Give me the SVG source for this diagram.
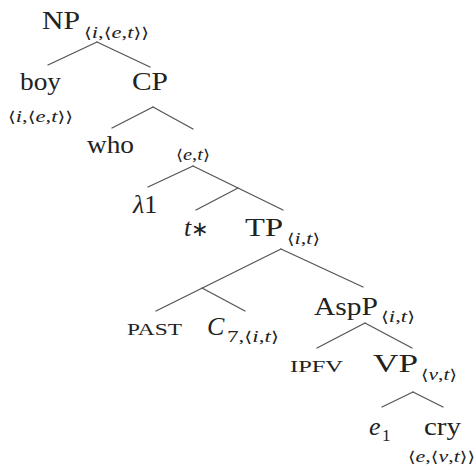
<svg xmlns="http://www.w3.org/2000/svg" width="476" height="470" viewBox="0 0 476 470">
<style>
text{font-family:"Liberation Serif","Times New Roman",serif;fill:#222}
.L{font-size:26px}
.s{font-size:17px}
.i{font-style:italic}
.b{font-family:"DejaVu Serif",serif;font-style:normal;font-size:15px}
.sc{font-size:17px}
#edges line{stroke:#555;stroke-width:1.3;stroke-linecap:round}
</style>
<rect width="476" height="470" fill="#fff"/>
<g id="edges">
<line x1="97" y1="42" x2="48" y2="65"/>
<line x1="97" y1="42" x2="150" y2="67"/>
<line x1="153" y1="107" x2="112" y2="128"/>
<line x1="153" y1="107" x2="193" y2="129"/>
<line x1="193" y1="166" x2="148" y2="187"/>
<line x1="193" y1="166" x2="283" y2="210"/>
<line x1="238" y1="188" x2="196" y2="210"/>
<line x1="281" y1="249" x2="156" y2="311"/>
<line x1="281" y1="249" x2="363" y2="287"/>
<line x1="202" y1="288" x2="245" y2="311"/>
<line x1="365" y1="323" x2="317" y2="348"/>
<line x1="365" y1="323" x2="412" y2="348"/>
<line x1="413" y1="392" x2="382" y2="407"/>
<line x1="413" y1="392" x2="443" y2="407"/>
</g>
<g id="np"><text class="L" x="42" y="29" textLength="38" lengthAdjust="spacingAndGlyphs">NP</text><text class="s" x="84" y="38" textLength="65" lengthAdjust="spacingAndGlyphs"><tspan class="b">⟨</tspan><tspan class="i">i</tspan>,<tspan class="b">⟨</tspan><tspan class="i">e</tspan>,<tspan class="i">t</tspan><tspan class="b">⟩⟩</tspan></text></g>
<g id="boy"><text class="L" x="20" y="90" textLength="41" lengthAdjust="spacingAndGlyphs">boy</text><text class="s" x="8" y="122" textLength="65" lengthAdjust="spacingAndGlyphs"><tspan class="b">⟨</tspan><tspan class="i">i</tspan>,<tspan class="b">⟨</tspan><tspan class="i">e</tspan>,<tspan class="i">t</tspan><tspan class="b">⟩⟩</tspan></text></g>
<g id="cp"><text class="L" x="132" y="90" textLength="36" lengthAdjust="spacingAndGlyphs">CP</text></g>
<g id="who"><text class="L" x="87" y="153" textLength="47" lengthAdjust="spacingAndGlyphs">who</text></g>
<g id="et"><text class="s" x="176" y="160" textLength="34" lengthAdjust="spacingAndGlyphs"><tspan class="b">⟨</tspan><tspan class="i">e</tspan>,<tspan class="i">t</tspan><tspan class="b">⟩</tspan></text></g>
<g id="lambda"><text class="L" x="133" y="213"><tspan class="i">λ</tspan>1</text></g>
<g id="tstar"><text class="L" x="184" y="236"><tspan class="i">t</tspan><tspan font-size="21">∗</tspan></text></g>
<g id="tp"><text class="L" x="245" y="236" textLength="38" lengthAdjust="spacingAndGlyphs">TP</text><text class="s" x="287" y="244" textLength="33" lengthAdjust="spacingAndGlyphs"><tspan class="b">⟨</tspan><tspan class="i">i</tspan>,<tspan class="i">t</tspan><tspan class="b">⟩</tspan></text></g>
<g id="past"><text class="sc" x="127" y="335" textLength="55" lengthAdjust="spacingAndGlyphs">PAST</text></g>
<g id="c7"><text class="L i" x="207" y="335">C</text><text class="s" x="227" y="342" textLength="52" lengthAdjust="spacingAndGlyphs">7,<tspan class="b">⟨</tspan><tspan class="i">i</tspan>,<tspan class="i">t</tspan><tspan class="b">⟩</tspan></text></g>
<g id="aspp"><text class="L" x="314" y="315" textLength="64" lengthAdjust="spacingAndGlyphs">AspP</text><text class="s" x="381" y="322" textLength="34" lengthAdjust="spacingAndGlyphs"><tspan class="b">⟨</tspan><tspan class="i">i</tspan>,<tspan class="i">t</tspan><tspan class="b">⟩</tspan></text></g>
<g id="ipfv"><text class="sc" x="290" y="372" textLength="53" lengthAdjust="spacingAndGlyphs">IPFV</text></g>
<g id="vp"><text class="L" x="373" y="372" textLength="45" lengthAdjust="spacingAndGlyphs">VP</text><text class="s" x="421" y="380" textLength="36" lengthAdjust="spacingAndGlyphs"><tspan class="b">⟨</tspan><tspan class="i">v</tspan>,<tspan class="i">t</tspan><tspan class="b">⟩</tspan></text></g>
<g id="e1"><text class="L i" x="369" y="435">e</text><text class="s" x="382" y="441">1</text></g>
<g id="cry"><text class="L" x="424" y="435" textLength="37" lengthAdjust="spacingAndGlyphs">cry</text><text class="s" x="408" y="462" textLength="67" lengthAdjust="spacingAndGlyphs"><tspan class="b">⟨</tspan><tspan class="i">e</tspan>,<tspan class="b">⟨</tspan><tspan class="i">v</tspan>,<tspan class="i">t</tspan><tspan class="b">⟩⟩</tspan></text></g>
</svg>
